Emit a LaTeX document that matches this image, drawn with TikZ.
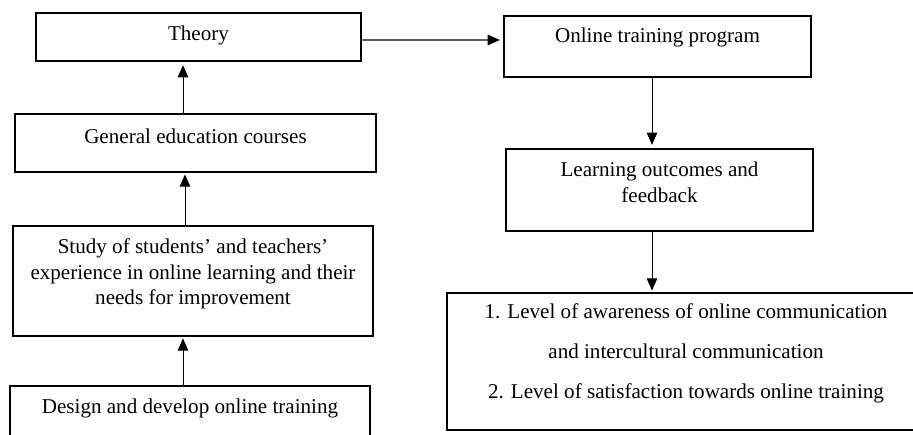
\documentclass[tikz,border=0pt]{standalone}
\usepackage{fontspec}
\setmainfont{Liberation Serif}
\usetikzlibrary{arrows.meta,calc}
\definecolor{linegray}{HTML}{606060}
\tikzset{
  box/.style={draw=black,line width=0.75pt,fill=white,inner sep=0pt},
  txt/.style={font=\fontsize{12}{14.5}\selectfont,align=center,inner sep=0pt},
  txtwide/.style={font=\fontsize{12}{22.7}\selectfont,align=center,inner sep=0pt},
  arr/.style={-{Triangle[length=7pt,width=6pt]},line width=0.55pt,draw=black,shorten >=1pt},
  arrgray/.style={-{Triangle[length=7pt,width=6pt,color=black]},line width=0.7pt,draw=linegray,shorten >=1pt}
}

\begin{document}
\begin{tikzpicture}[x=0.02cm,y=-0.02cm]
\useasboundingbox (0,0) rectangle (913,435);
\clip (0,0) rectangle (913,435);

% left column, read bottom-up
\node[box,minimum width=6.5cm,minimum height=0.96cm] (theory) at (198.5,37) {};
\node[txt] (theoryT) at (198.5,35) {Theory};
\node[box,minimum width=7.22cm,minimum height=1.16cm] (gen) at (195.5,143) {};
\node[txt] (genT) at (195.5,136) {General education courses};
\node[box,minimum width=7.2cm,minimum height=2.2cm] (study) at (193,281) {};
\node[txt] (studyT) at (193,274) {Study of students’ and teachers’\\experience in online learning and their\\needs for improvement};
\node[box,minimum width=7.2cm,minimum height=1.18cm] (design) at (190,415.5) {};
\node[txt] (designT) at (190,408) {Design and develop online training};

% right column, top-down
\node[box,minimum width=6.14cm,minimum height=1.22cm] (online) at (657.5,46.5) {};
\node[txt] (onlineT) at (657.5,37) {Online training program};
\node[box,minimum width=6.14cm,minimum height=1.64cm] (learn) at (659.5,190) {};
\node[txt] (learnT) at (659.5,182.5) {Learning outcomes and\\feedback};
\node[box,minimum width=9.56cm,minimum height=2.74cm] (levels) at (686,361.5) {};
\node[txtwide] (levelsT) at (686,353) {1. Level of awareness of online communication\\and intercultural communication\\2. Level of satisfaction towards online training};

% connectors
\draw[arr] ($(design.north)+(-7,0)$) -- ($(study.south)+(-10,0)$);
\draw[arr] ($(study.north)+(-8,0)$) -- ($(gen.south)+(-10.5,0)$);
\draw[arr,shorten >=2pt] ($(gen.north)+(-12.5,0)$) -- ($(theory.south)+(-15.5,0)$);
\draw[arrgray,shorten >=2pt] ($(theory.east)+(0,3)$) -- ($(online.west)+(0,-6.5)$);
\draw[arr,shorten >=2pt] ($(online.south)+(-5.5,0)$) -- ($(learn.north)+(-7.5,0)$);
\draw[arr] ($(learn.south)+(-7.5,0)$) -- ($(levels.north)+(-34,0)$);
\end{tikzpicture}
\end{document}
